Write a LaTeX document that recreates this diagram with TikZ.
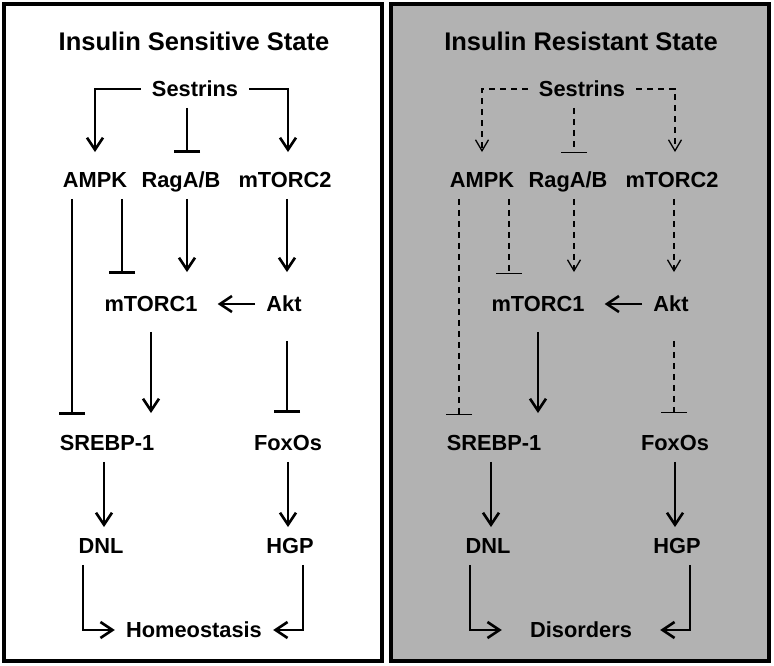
\documentclass[tikz,border=0pt]{standalone}
\usepackage{fontspec}
\setmainfont{Liberation Sans}
\usetikzlibrary{arrows.meta}

\definecolor{panelgray}{RGB}{178,178,178}
\tikzset{
  lbl/.style={font=\bfseries\fontsize{21.8}{24}\selectfont, text height=15.5pt, text depth=0pt, inner xsep=11pt, inner ysep=11pt},
  ttl/.style={font=\bfseries\fontsize{25.5}{28}\selectfont},
  act/.style={line width=2.6pt, -{Straight Barb[length=12pt,width=16pt]}},
  inh/.style={line width=2.6pt, -{Bar[width=26pt]}},
  % the right panel draws the weakened links dashed
  linkl/.style={act}, blockl/.style={inh},
  linkr/.style={line width=1.3pt, dash pattern=on 6pt off 5pt, -{Straight Barb[length=11pt,width=13pt]}},
  blockr/.style={line width=1.3pt, dash pattern=on 6pt off 5pt, -{Bar[width=26pt]}},
  boxl/.style={fill=white}, boxr/.style={fill=panelgray},
}

\begin{document}
\begin{tikzpicture}[x=1pt,y=-1pt]
    \useasboundingbox (0,0) rectangle (774,666);
    \foreach \p/\dx/\ttltext/\res in {l/0/Insulin Sensitive State/Homeostasis, r/387/Insulin Resistant State/Disorders} {
    \begin{scope}[xshift=\dx pt]
        % panel frame
        \draw[line width=4pt, box\p] (4,4) rectangle (382,661);
        \node[ttl] (\p-title) at (194,41) {\ttltext};

        \node[lbl] (\p-ses) at (195,89) {Sestrins};
        \node[lbl] (\p-ampk) at (95,180) {AMPK};
        \node[lbl] (\p-rag) at (181,180) {RagA/B};
        \node[lbl] (\p-m2) at (285,180) {mTORC2};
        \node[lbl] (\p-m1) at (151,304) {mTORC1};
        \node[lbl] (\p-akt) at (284,304) {Akt};
        \node[lbl] (\p-srebp) at (107,443) {SREBP-1};
        \node[lbl] (\p-foxo) at (288,443) {FoxOs};
        \node[lbl] (\p-dnl) at (101,546) {DNL};
        \node[lbl] (\p-hgp) at (290,546) {HGP};
        \node[lbl, minimum width=158pt] (\p-res) at (194,630) {\res};

        % Sestrins
        \draw[link\p, shorten >=9pt] (\p-ses.west) -| (\p-ampk.north);
        \draw[link\p, shorten >=9pt] (\p-ses.east) -| ([xshift=3pt]\p-m2.north);
        \draw[block\p, shorten >=8pt] ([xshift=-8pt]\p-ses.south) -- ([xshift=-8pt]\p-ses.south |- \p-rag.north);

        % mTORC1 and Akt
        \draw[block\p, shorten >=11pt] ([xshift=27pt]\p-ampk.south) -- ([xshift=27pt]\p-ampk.south |- \p-m1.north);
        \draw[link\p, shorten >=13pt] ([xshift=6pt]\p-rag.south) -- ([xshift=6pt]\p-rag.south |- \p-m1.north);
        \draw[link\p, shorten >=13pt] ([xshift=2pt]\p-m2.south) -- ([xshift=2pt]\p-m2.south |- \p-akt.north);
        \draw[act, shorten >=9pt] (\p-akt.west) -- (\p-m1.east);

        % SREBP-1 and FoxOs
        \draw[block\p, shorten >=9pt] ([xshift=-23pt]\p-ampk.south) -- ([xshift=-23pt]\p-ampk.south |- \p-srebp.north);
        \draw[act, shorten <=9pt, shorten >=11pt] (\p-m1.south) -- (\p-m1.south |- \p-srebp.north);
        \draw[block\p, shorten <=18pt, shorten >=11pt] ([xshift=3pt]\p-akt.south) -- ([xshift=3pt]\p-akt.south |- \p-foxo.north);

        \draw[act] ([xshift=-3pt]\p-srebp.south) -- ([xshift=-3pt]\p-srebp.south |- \p-dnl.north);
        \draw[act] (\p-foxo.south) -- (\p-foxo.south |- \p-hgp.north);
        \draw[act] ([xshift=-18pt]\p-dnl.south) |- (\p-res.west);
        \draw[act] ([xshift=13pt]\p-hgp.south) |- (\p-res.east);
    \end{scope}
    }
\end{tikzpicture}
\end{document}
